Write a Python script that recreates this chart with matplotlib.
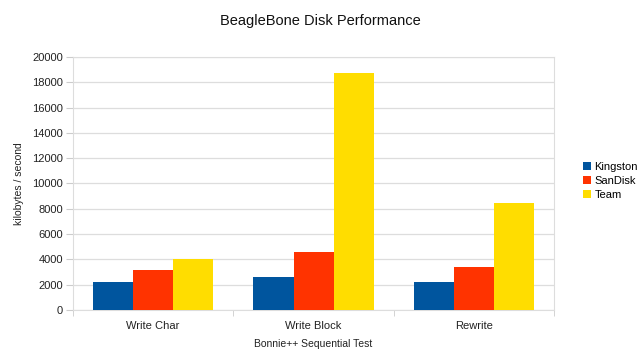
import matplotlib.pyplot as plt
import numpy as np

plt.rcParams['font.family'] = ['Liberation Sans', 'DejaVu Sans']

tests = ["Write Char", "Write Block", "Rewrite"]
kingston = [2240, 2640, 2190]
sandisk = [3140, 4590, 3400]
team = [4010, 18730, 8440]
series = ["Kingston", "SanDisk", "Team"]
colors = ["#00559e", "#ff3300", "#ffdd00"]

fig = plt.figure(figsize=(6.4, 3.57), dpi=100)
ax = fig.add_axes([0.114, 0.132, 0.752, 0.708])

x = np.arange(len(tests))
w = 0.25
for i, (vals, name, c) in enumerate(zip([kingston, sandisk, team], series, colors)):
    ax.bar(x + (i - 1) * w, vals, w, color=c, label=name, zorder=3)

ax.set_xlim(-0.5, 2.5)
ax.set_ylim(0, 20000)
ax.set_yticks(range(0, 20001, 2000))
ax.set_xticks(x)
ax.set_xticklabels(tests)
ax.set_xticks([-0.5, 0.5, 1.5, 2.5], minor=True)
ax.tick_params(axis='x', which='major', length=0, pad=8, labelsize=8, colors='#222222')
ax.tick_params(axis='x', which='minor', length=4, color='#cccccc')
ax.tick_params(axis='y', length=5, color='#cccccc', labelsize=8, labelcolor='#222222', pad=2)
ax.grid(axis='y', color='#dddddd', linewidth=0.9, zorder=0)
for s in ax.spines.values():
    s.set_color('#dddddd')

ax.set_xlabel("Bonnie++ Sequential Test", fontsize=7.5, labelpad=6, color='#222222')
ax.set_ylabel("kilobytes / second", fontsize=7.5, labelpad=6, color='#222222')
fig.suptitle("BeagleBone Disk Performance", fontsize=10.5, y=0.96, color='#111111')

ax.legend(loc='center left', bbox_to_anchor=(1.04, 0.51), frameon=False, fontsize=8,
          handlelength=0.7, handleheight=0.7, handletextpad=0.3, labelspacing=0.35)

fig.savefig("out.png", dpi=100)
